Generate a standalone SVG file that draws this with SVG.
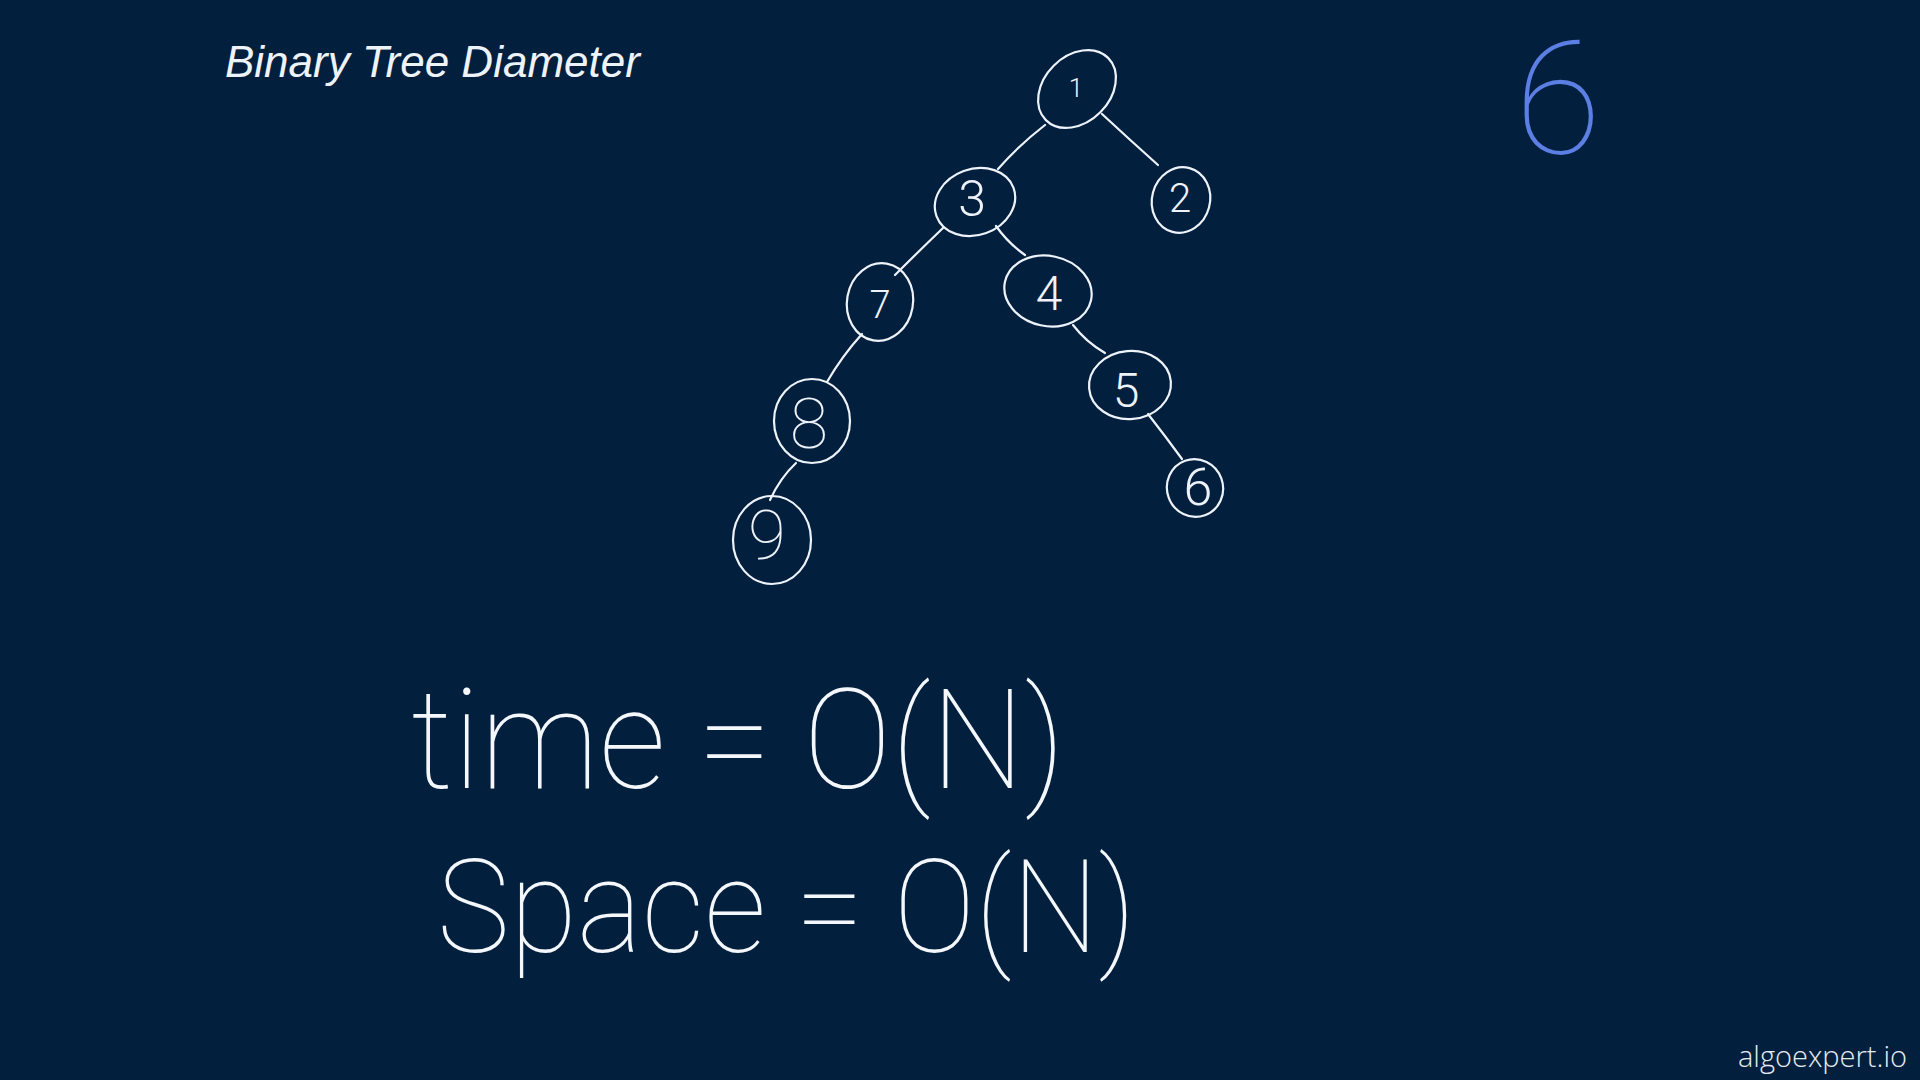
<svg xmlns="http://www.w3.org/2000/svg" width="1920" height="1080" viewBox="0 0 1920 1080">
<style>
.node{fill:none;stroke:#eef3fa;stroke-width:2.2}
.edge{fill:none;stroke:#eef3fa;stroke-width:2.2;stroke-linecap:round}
.dig{font-family:Roboto,"Noto Sans",sans-serif;font-weight:300;fill:#eef3fa;text-anchor:middle}
.digt{font-family:Roboto,"Noto Sans",sans-serif;font-weight:100;fill:#eef3fa;text-anchor:middle}
.hand{font-family:Roboto,"Noto Sans",sans-serif;font-weight:100;fill:#f4f7fb}
</style>
<rect width="1920" height="1080" fill="#021f3e"/>
<text x="225" y="77" font-family="Liberation Sans, Arial, sans-serif" font-style="italic" font-size="44" fill="#eef3fa">Binary Tree Diameter</text>
<g id="connectors">
<path class="edge" d="M1045,125 Q1018,146 998,169"/>
<path class="edge" d="M1102,114 Q1130,140 1158,165"/>
<path class="edge" d="M943,228 Q918,252 895,275"/>
<path class="edge" d="M996,226 Q1008,243 1025,255"/>
<path class="edge" d="M862,334 Q842,356 827,382"/>
<path class="edge" d="M1073,325 Q1086,342 1105,353"/>
<path class="edge" d="M1148,414 Q1166,437 1182,459"/>
<path class="edge" d="M796,463 Q780,478 770,500"/>
</g>
<g id="node1"><ellipse class="node" cx="1077" cy="89" rx="44" ry="33" transform="rotate(-45 1077 89)"/><text class="dig" x="1076" y="97" font-size="26">1</text></g>
<g id="node3"><ellipse class="node" cx="975" cy="202" rx="41" ry="33" transform="rotate(-20 975 202)"/><text class="dig" x="972" y="216" font-size="50">3</text></g>
<g id="node2"><ellipse class="node" cx="1181" cy="200" rx="29" ry="33" transform="rotate(15 1181 200)"/><text class="dig" x="1180" y="212" font-size="40">2</text></g>
<g id="node7"><ellipse class="node" cx="880" cy="302" rx="33" ry="39" transform="rotate(10 880 302)"/><text class="dig" x="880" y="318" font-size="38">7</text></g>
<g id="node4"><ellipse class="node" cx="1048" cy="291" rx="44" ry="35" transform="rotate(12 1048 291)"/><text class="dig" x="1049" y="310" font-size="48">4</text></g>
<g id="node5"><ellipse class="node" cx="1130" cy="385" rx="41" ry="34" transform="rotate(-5 1130 385)"/><text class="dig" x="1126" y="407" font-size="48">5</text></g>
<g id="node8"><ellipse class="node" cx="812" cy="421" rx="38" ry="42"/><text class="digt" x="809" y="448" font-size="70">8</text></g>
<g id="node6"><ellipse class="node" cx="1195" cy="488" rx="28" ry="29" transform="rotate(-20 1195 488)"/><text class="dig" x="1198" y="505" font-size="52">6</text></g>
<g id="node9"><ellipse class="node" cx="772" cy="540" rx="39" ry="44"/><text class="digt" x="767" y="559" font-size="69">9</text></g>
<text x="1558" y="153" font-family="Roboto, 'Noto Sans', sans-serif" font-weight="100" font-size="158" fill="#5b7fe3" text-anchor="middle">6</text>
<text class="hand" x="411" y="788" font-size="140" textLength="654" lengthAdjust="spacingAndGlyphs">time = O(N)</text>
<text class="hand" x="437" y="952" font-size="130" textLength="699" lengthAdjust="spacingAndGlyphs">Space = O(N)</text>
<text x="1907" y="1067" font-family="'Open Sans', sans-serif" font-weight="300" font-size="29" fill="#e6ebf0" text-anchor="end">algoexpert.io</text>
</svg>
